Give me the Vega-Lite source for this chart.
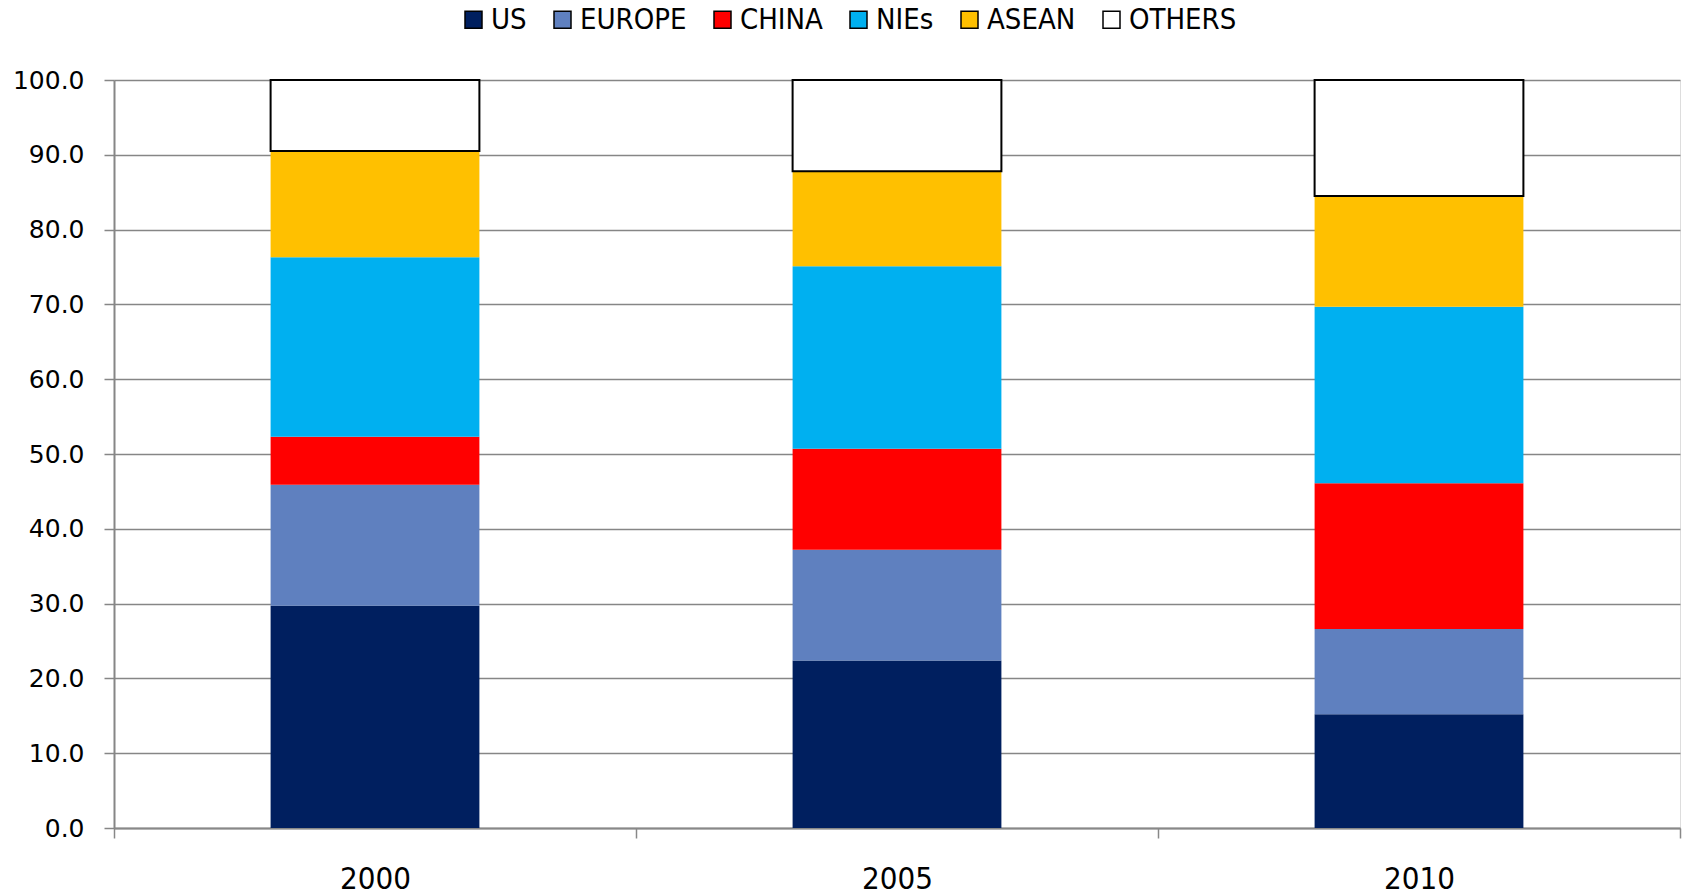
{
  "$schema": "https://vega.github.io/schema/vega-lite/v6.json",
  "autosize": {"type": "none"},
  "width": 1566,
  "height": 748,
  "padding": {"left": 114, "top": 80, "right": 5, "bottom": 66},
  "background": "white",
  "data": {
    "values": [
      {"year": "2000", "region": "US", "share": 29.7},
      {"year": "2000", "region": "EUROPE", "share": 16.2},
      {"year": "2000", "region": "CHINA", "share": 6.4},
      {"year": "2000", "region": "NIEs", "share": 24.0},
      {"year": "2000", "region": "ASEAN", "share": 14.2},
      {"year": "2000", "region": "OTHERS", "share": 9.5},
      {"year": "2005", "region": "US", "share": 22.4},
      {"year": "2005", "region": "EUROPE", "share": 14.8},
      {"year": "2005", "region": "CHINA", "share": 13.5},
      {"year": "2005", "region": "NIEs", "share": 24.4},
      {"year": "2005", "region": "ASEAN", "share": 12.7},
      {"year": "2005", "region": "OTHERS", "share": 12.2},
      {"year": "2010", "region": "US", "share": 15.2},
      {"year": "2010", "region": "EUROPE", "share": 11.4},
      {"year": "2010", "region": "CHINA", "share": 19.5},
      {"year": "2010", "region": "NIEs", "share": 23.6},
      {"year": "2010", "region": "ASEAN", "share": 14.8},
      {"year": "2010", "region": "OTHERS", "share": 15.5}
    ]
  },
  "transform": [
    {"calculate": "indexof(['US','EUROPE','CHINA','NIEs','ASEAN','OTHERS'], datum.region)", "as": "stackOrder"}
  ],
  "mark": {"type": "bar", "stroke": "#000000", "width": {"band": 0.4}},
  "encoding": {
    "x": {
      "field": "year",
      "type": "nominal",
      "title": null,
      "scale": {"paddingInner": 0, "paddingOuter": 0},
      "axis": {
        "labelAngle": 0,
        "tickBand": "extent",
        "tickSize": 10,
        "tickColor": "#888888",
        "tickWidth": 1.5,
        "domainColor": "#888888",
        "domainWidth": 2,
        "labelFont": "Liberation Sans Narrow, DejaVu Sans Condensed, sans-serif",
        "labelFontSize": 31,
        "labelColor": "#000000",
        "labelPadding": 26
      }
    },
    "y": {
      "field": "share",
      "type": "quantitative",
      "stack": "zero",
      "title": null,
      "scale": {"domain": [0, 100], "nice": false},
      "axis": {
        "values": [0, 10, 20, 30, 40, 50, 60, 70, 80, 90, 100],
        "format": ".1f",
        "grid": true,
        "gridColor": "#868686",
        "gridWidth": 1.5,
        "tickSize": 10,
        "tickColor": "#868686",
        "tickWidth": 1.5,
        "domainColor": "#868686",
        "domainWidth": 2,
        "labelFont": "DejaVu Sans",
        "labelFontSize": 25,
        "labelColor": "#000000",
        "labelPadding": 20
      }
    },
    "color": {
      "field": "region",
      "type": "nominal",
      "scale": {
        "domain": ["US", "EUROPE", "CHINA", "NIEs", "ASEAN", "OTHERS"],
        "range": ["#001f5f", "#5f80bf", "#ff0000", "#00b0f0", "#ffc000", "#ffffff"]
      },
      "legend": {
        "title": null,
        "orient": "none",
        "direction": "horizontal",
        "columns": 6,
        "legendX": 345,
        "legendY": -75,
        "symbolType": "square",
        "symbolSize": 289,
        "symbolOpacity": 1,
        "labelFont": "Liberation Sans Narrow, DejaVu Sans Condensed, sans-serif",
        "labelFontSize": 29,
        "labelColor": "#000000",
        "labelOffset": 3,
        "columnPadding": 21,
        "encode": {
          "symbols": {
            "update": {
              "stroke": {"signal": "datum.value === 'OTHERS' ? '#000000' : 'transparent'"},
              "strokeWidth": {"value": 1.5}
            }
          }
        }
      }
    },
    "order": {"field": "stackOrder", "type": "quantitative"},
    "strokeWidth": {
      "condition": {"test": "datum.region === 'OTHERS'", "value": 2},
      "value": 0
    }
  }
}
